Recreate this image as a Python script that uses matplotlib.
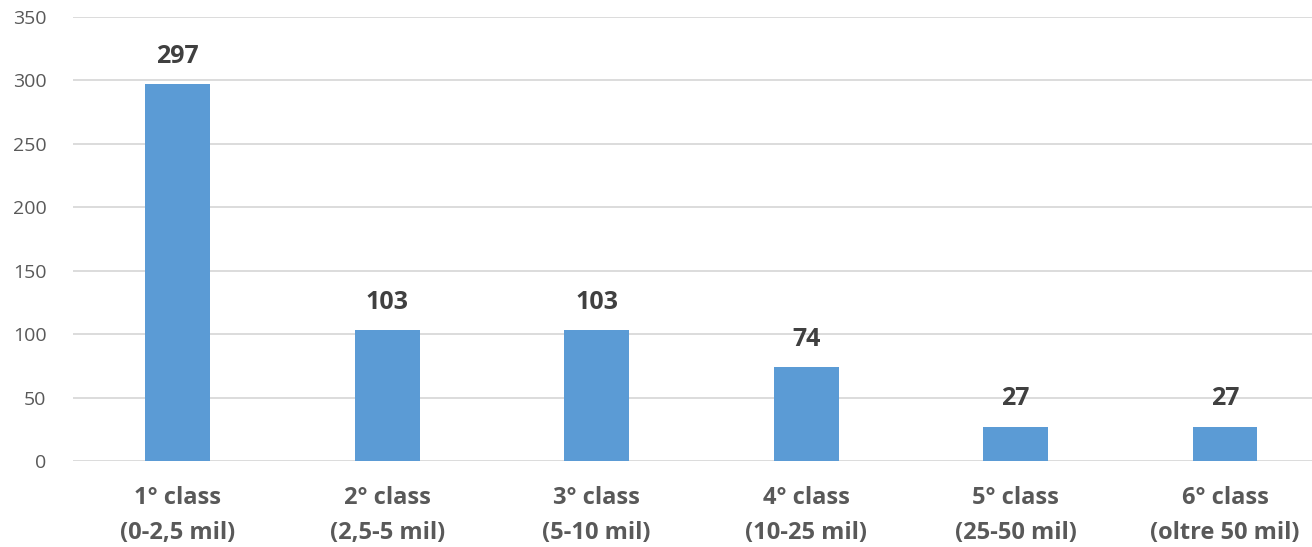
import matplotlib
matplotlib.use("Agg")
import matplotlib.pyplot as plt

categories = ["1° class\n(0-2,5 mil)", "2° class\n(2,5-5 mil)", "3° class\n(5-10 mil)",
              "4° class\n(10-25 mil)", "5° class\n(25-50 mil)", "6° class\n(oltre 50 mil)"]
values = [297, 103, 103, 74, 27, 27]
yticks = [0, 50, 100, 150, 200, 250, 300, 350]

plt.rcParams['font.family'] = ['Open Sans', 'DejaVu Sans']

fig = plt.figure(figsize=(13.12, 5.47), dpi=100)
ax = fig.add_axes([73/1312, 1-461/547, 1-73/1312, (461-17)/547])

x = list(range(len(categories)))
ax.bar(x, values, width=0.31, color="#5B9BD5", zorder=3)
for xi, v in zip(x, values):
    ax.annotate(str(v), (xi, v), xytext=(0, 11), textcoords="offset points",
                ha="center", va="bottom", fontsize=18, fontweight="bold", color="#404040")

ax.set_ylim(0, 350)
ax.set_xlim(-0.5, (1312-177.5)/209.5)
ax.set_yticks(yticks)
ax.set_xticks(x)
ax.set_xticklabels(categories, fontsize=17, fontweight="bold", color="#595959", linespacing=1.6)
ax.tick_params(axis="y", labelsize=14, labelcolor="#595959", length=0, pad=19)
ax.tick_params(axis="x", length=0, pad=18)
ax.grid(axis="y", color="#D9D9D9", linewidth=1.3, zorder=0)
for s in ax.spines.values():
    s.set_visible(False)

fig.savefig("out.png", dpi=100)
